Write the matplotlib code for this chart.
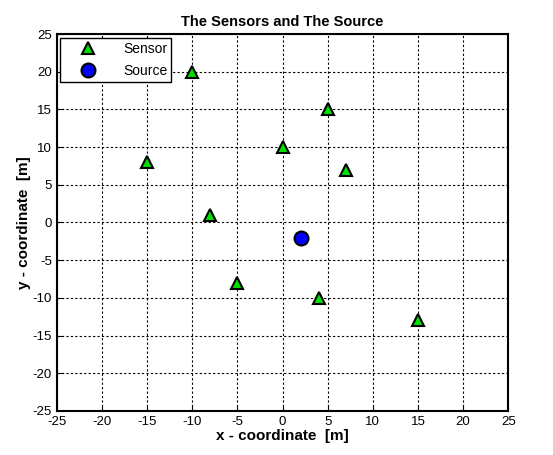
import numpy as np
import matplotlib.pyplot as plt

plt.rcParams['font.family'] = ['Liberation Sans', 'DejaVu Sans']
plt.rcParams['axes.unicode_minus'] = False

sensor_x = [-10, 5, -15, 0, 7, -8, -5, 4, 15]
sensor_y = [20, 15, 8, 10, 7, 1, -8, -10, -13]
source_x = [2]
source_y = [-2]
ticks = np.arange(-25, 26, 5)

fig = plt.figure(figsize=(5.53, 4.55), dpi=100)
ax = fig.add_axes([0.103, 0.097, 0.816, 0.828])

ax.plot(sensor_x, sensor_y, '^', color='k', markerfacecolor='#00e000',
        markeredgecolor='k', markeredgewidth=1.5, markersize=8, label='Sensor')
ax.plot(source_x, source_y, 'o', markerfacecolor='#0000ff',
        markeredgecolor='k', markeredgewidth=1.5, markersize=10, label='Source')

ax.set_xlim(-25, 25)
ax.set_ylim(-25, 25)
ax.set_xticks(ticks)
ax.set_yticks(ticks)
ax.grid(True, color='k', linestyle=(0, (2, 2)), linewidth=0.8)
ax.tick_params(direction='in', labelsize=9.5, length=4)
for s in ax.spines.values():
    s.set_linewidth(1.5)

ax.set_title('The Sensors and The Source', fontsize=10.5, fontweight='bold')
ax.set_xlabel('x - coordinate  [m]', fontsize=11, fontweight='bold', labelpad=1)
ax.set_ylabel('y - coordinate  [m]', fontsize=11, fontweight='bold', labelpad=1)

leg = ax.legend(loc='upper left', fontsize=10, fancybox=False, framealpha=1,
                edgecolor='k', borderaxespad=0.25, handlelength=3.3,
                handletextpad=0.9, labelspacing=0.6, borderpad=0.3)
leg.get_frame().set_linewidth(1)

fig.savefig('out.png', dpi=100)
